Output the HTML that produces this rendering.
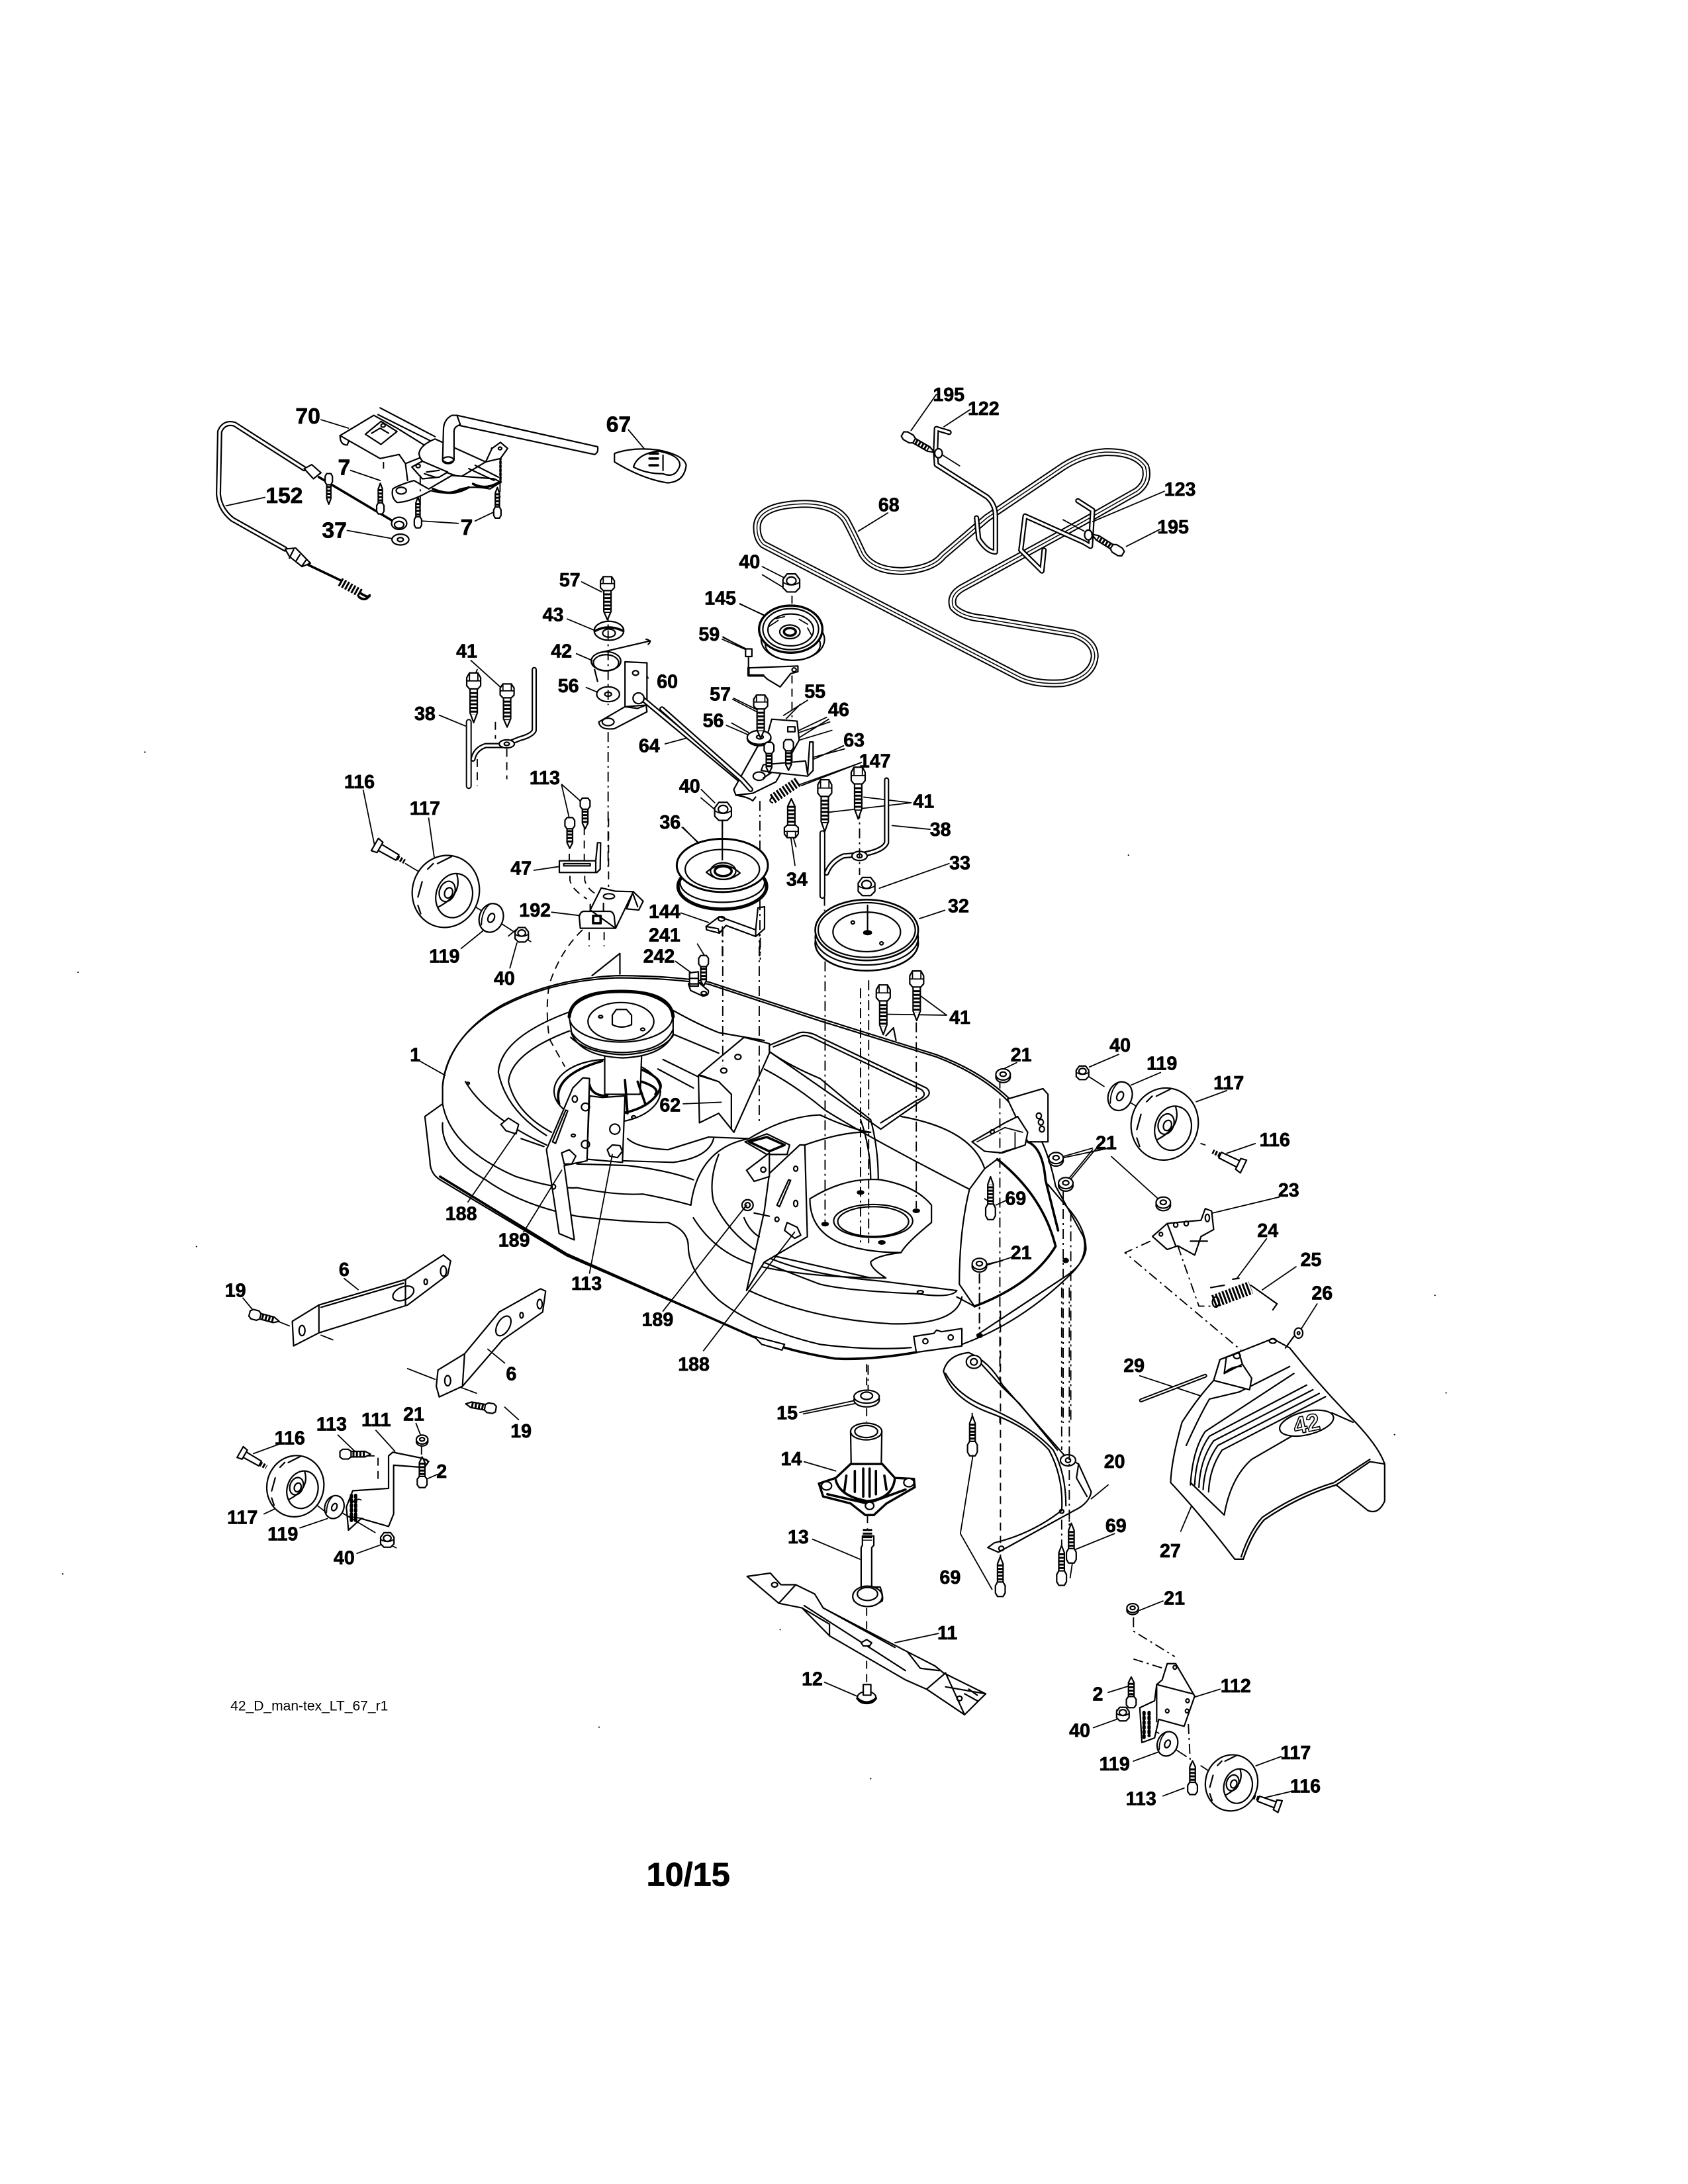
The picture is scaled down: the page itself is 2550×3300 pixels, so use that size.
<!DOCTYPE html>
<html><head><meta charset="utf-8"><title>Mower deck parts diagram</title>
<style>
html,body{margin:0;padding:0;background:#fff}
svg{display:block;fill:none;stroke:#000;stroke-width:2.2;stroke-linejoin:round;stroke-linecap:round}
svg *{vector-effect:non-scaling-stroke}
.w{fill:#fff}
.k{fill:#000}
.t{stroke-width:1.8}
.h{stroke-width:3.6}
.dd{stroke-width:1.9;stroke-dasharray:15 6 3 6;stroke-linecap:butt}
.d{stroke-width:1.9;stroke-dasharray:12 8;stroke-linecap:butt}
.tb{stroke-width:8}
.tw{stroke-width:3.6;stroke:#fff}
.bb{stroke-width:12}
.bw{stroke-width:8;stroke:#fff}
.bc{stroke-width:1.5}
.sp{stroke-width:13;stroke-dasharray:3 2.4;stroke-linecap:butt}
text{font-family:"Liberation Sans",sans-serif;font-weight:700;fill:#000;stroke:#000;stroke-width:.7;text-anchor:middle}
.l text{font-size:13.6px}
.l .L{font-size:16px}
</style></head><body>
<svg xmlns="http://www.w3.org/2000/svg" width="2550" height="3300" viewBox="0 0 2550 3300">
<defs>
<path id="belt" d="M225,430Q225,370 340,368Q410,370 435,410Q450,440 475,500Q500,545 570,545Q640,540 665,505L770,405L950,270Q1000,235 1050,232Q1120,230 1145,270Q1155,310 1125,335L990,420L710,590Q680,610 690,640Q710,665 760,670L975,710Q1025,730 1025,770Q1020,825 950,840Q880,845 840,820L240,475Q225,460 225,430Z"/>
<g id="b"><path d="M-2.6,4V19L0,25L2.6,19V4" class="w"/><path d="M0,6V20" style="stroke-width:9;stroke-dasharray:3 2.6;stroke-linecap:butt"/><path class="w" d="M-5,-3L-3,-6L3,-6L5,-3L5,2L3,4L-3,4L-5,2Z"/><path class="t" d="M-3,-6V-1M3,-6V-1M-5,-1H5"/></g>
<g id="sb"><path d="M-2,4V14L0,18L2,14V4" class="w"/><path d="M0,5V14" style="stroke-width:7;stroke-dasharray:3 2.2;stroke-linecap:butt"/><path class="w" d="M-3.5,-2L-2,-4L2,-4L3.5,-2L3.5,2L2,4L-2,4L-3.5,2Z"/></g>
<g id="n"><path class="w" d="M-6,-3L-3,-7L3,-7L6,-3L6,3L3,6L-3,6L-6,3Z"/><ellipse cx="0" cy="-2" rx="3.4" ry="2.8"/><path class="t" d="M-6,-1Q0,3 6,-1"/></g>
<g id="s"><ellipse class="w" cx="0" cy="1.2" rx="5.2" ry="4"/><ellipse class="w" cx="0" cy="-.6" rx="5.2" ry="4"/><ellipse cx="0" cy="-.8" rx="2.2" ry="1.6"/></g>
<g id="wa"><ellipse class="w" cx="0" cy="0" rx="8.5" ry="10.5" transform="rotate(20)"/><path class="t" d="M-7,5Q-7,-5 -1,-10"/><ellipse cx="0" cy="0" rx="2.2" ry="3.4" transform="rotate(25)"/></g>
<g id="wh"><ellipse class="w" rx="24" ry="26" transform="rotate(15)"/><ellipse cx="6" cy="3" rx="13" ry="16" transform="rotate(15 6 3)"/><ellipse cx="1" cy="0" rx="5.5" ry="7.5" transform="rotate(20 1 0)"/><ellipse cx="2" cy="1" rx="2.8" ry="3.8" transform="rotate(20 2 1)"/><path d="M8,-12Q12,2 -5,11M-13,-16L-9,-20M-6,-20L4,-25M-17,-7L-20,4M-20,10L-18,16"/></g>
<g id="pin"><path class="w" d="M-3,0L3,0L2.6,18L-2.6,18Z"/><path d="M0,18V25" style="stroke-width:7;stroke-dasharray:3 2;stroke-linecap:butt"/><path class="w" d="M-6,-4L6,-4L5,1L-5,1Z"/></g>
</defs>

<!-- DECK -->
<g transform="translate(550,1400) scale(.7653,.4783)">
<path d="M450,155L505,85L505,150" class="w"/><path d="M1030,345L1045,320L1050,360" class="w"/>
<path class="w" d="M155,505Q165,350 270,250Q370,165 500,155Q600,155 680,175L900,290L1130,405Q1240,470 1300,590Q1345,660 1365,820L1420,980Q1430,1040 1400,1090Q1300,1250 1180,1320L1090,1345Q1000,1370 930,1365Q830,1340 760,1290L400,1040L150,800Q130,780 130,740L120,600L155,560Z"/>
<path class="h" d="M150,790L400,1035L760,1290Q830,1340 930,1365Q1000,1370 1090,1345"/>
<path d="M155,500Q165,350 270,255Q370,170 500,162Q600,162 680,182L900,298L1130,412Q1240,480 1295,595"/>
<path d="M155,620Q150,720 240,800Q310,880 420,915Q520,935 600,935Q640,960 640,1010Q640,1090 700,1180Q770,1270 900,1320Q1000,1340 1080,1330"/>
<path d="M155,560Q170,700 300,790Q380,830 420,825Q500,850 550,845Q600,860 645,880"/>
<path d="M200,490Q240,600 360,690"/>
<path d="M405,270Q270,350 265,460Q280,580 360,660"/>
<path d="M405,330Q290,400 285,490Q300,590 370,650"/>
<path d="M610,265Q660,310 700,335L790,360M610,340L700,400M590,420L660,475M580,450L650,510"/>
<path d="M310,670L355,695M520,670Q540,700 600,705L680,665Q760,670 760,670M690,670Q680,730 610,745L510,740M420,750L520,755Q600,770 650,800"/>
<path class="w" d="M800,375L860,335Q880,330 900,350L1110,510Q1125,530 1100,550L1020,640L800,395Z"/>
<path d="M808,380L865,345Q875,342 890,355L1100,515Q1115,535 1090,550L1020,620"/>
<path d="M800,395Q840,440 900,480Q930,520 960,560L1000,610Q1015,700 1015,800M980,610Q1000,700 1000,800"/>
<path d="M790,450Q850,500 910,580Q1000,670 1195,830M1060,600Q1200,640 1225,765"/>
<path class="w" d="M1225,765L1195,830Q1175,960 1175,1130L1205,1200Q1320,1130 1365,1010Q1340,850 1250,735Z"/>
<path class="h" d="M1250,735Q1340,850 1365,1010Q1320,1130 1205,1200"/>
<path d="M880,860Q950,790 1020,800Q1090,820 1120,880L1120,935Q1070,1000 1060,1030Q990,1030 940,1000Q880,960 880,860Z" class="w"/>
<ellipse cx="1005" cy="930" rx="78" ry="52"/><ellipse cx="1005" cy="932" rx="70" ry="47"/>
<path d="M650,920Q700,1050 800,1080Q900,1110 1030,1110Q1000,1080 1000,1060Q1010,1040 1060,1030"/>
<path d="M700,720Q680,800 690,870Q720,970 780,1030L1000,1110"/>
<path d="M790,1040Q870,1100 1020,1120L1170,1150Q1160,1175 1090,1160Q950,1150 900,1130Q850,1100 780,1055"/>
<path d="M760,1150Q880,1240 1040,1255Q1170,1260 1180,1170"/>
<path d="M645,880Q660,700 760,670Q830,600 900,595Q960,640 1000,650Q950,645 870,690"/>
<path d="M1170,1170L1205,1200"/>
<path class="w" d="M1270,545L1340,512L1350,530L1350,680L1310,680Z"/>
<ellipse cx="1332" cy="598" rx="5" ry="9"/><ellipse cx="1336" cy="618" rx="5" ry="9"/><ellipse cx="1338" cy="640" rx="5" ry="9"/>
<path class="w" d="M1200,680L1265,620L1290,600L1310,650L1305,690L1260,715L1225,710Z"/>
<path class="t" d="M1210,680L1265,635L1300,650M1285,650V700L1260,712"/><ellipse cx="1240" cy="648" rx="4" ry="6"/>
<path class="h" d="M1310,680Q1340,700 1345,800L1370,960"/>
<path d="M1350,815L1395,900Q1425,960 1425,1020Q1420,1070 1380,1110L1210,1290"/>
<path class="w" d="M770,1295L830,1320L825,1338L785,1320Z"/>
<path class="w" d="M1085,1295L1125,1285L1130,1275L1140,1280L1180,1270L1180,1325L1090,1345Z"/>
<ellipse cx="1108" cy="1310" rx="5" ry="8"/><ellipse cx="1158" cy="1298" rx="5" ry="8"/>
<ellipse cx="1215" cy="1292" rx="5" ry="6" class="k"/>
<ellipse cx="1385" cy="1055" rx="5" ry="6" class="k"/>
<!-- spindle -->
<ellipse cx="480" cy="520" rx="105" ry="100" class="w"/>
<path d="M385,560Q370,470 470,425" class="h"/>
<path d="M545,450Q590,480 585,510Q570,570 510,590" class="h"/>
<path class="w" d="M475,400L475,530L545,530L548,400Z"/>
<path class="w" d="M405,285L410,340Q430,410 510,415Q590,410 610,340L610,280Z"/>
<path d="M408,330Q430,395 510,398Q590,395 610,325M408,350Q440,400 510,405Q585,400 610,345"/>
<ellipse cx="507" cy="285" rx="102" ry="80" class="w"/>
<path d="M405,285Q410,205 507,205Q605,205 610,285" style="stroke-width:5"/>
<ellipse cx="507" cy="300" rx="65" ry="60"/>
<path class="w" d="M490,280L498,262L518,262L528,280L528,310Q508,325 490,310Z"/>
<circle cx="467" cy="285" r="4"/><circle cx="550" cy="325" r="4"/>
<path class="h" d="M445,500Q450,535 480,535M515,485L520,590M540,490L555,560M548,490Q585,510 575,530"/>
<path class="w" d="M445,535L470,540L515,535L510,745L440,735Z"/>
<ellipse cx="495" cy="640" rx="10" ry="16"/><path class="w" d="M480,705L490,690L505,692L510,710L500,730L485,725Z"/>
<path class="w" d="M360,705L412,510L432,478L445,480L440,740L395,755L415,990L385,970L360,705Z"/>
<path d="M372,680L398,580L402,582L378,685Z"/>
<ellipse cx="416" cy="545" rx="5" ry="10"/><ellipse cx="437" cy="570" rx="8" ry="12"/><ellipse cx="437" cy="688" rx="8" ry="12"/><circle cx="413" cy="660" r="4"/>
<path class="w" d="M390,715L405,705L418,725L410,750L395,750Z"/><ellipse cx="374" cy="822" rx="4" ry="7"/>
<path class="w" d="M270,625L285,605L305,625L300,655L280,645Z"/>
<!-- center bracket -->
<path class="w" d="M660,470L750,350L800,370L800,400L730,650L725,640L725,530L700,490L665,470Z"/>
<path class="w" d="M660,470L700,490L725,530L725,640L700,590L662,620Z"/>
<ellipse cx="710" cy="455" rx="6" ry="8"/><ellipse cx="738" cy="412" rx="6" ry="8"/>
<!-- right bracket -->
<path class="w" d="M755,1150L790,900L800,780L860,690L870,690L875,980L790,1060Z"/>
<path class="w" d="M752,680L795,655L840,690L835,720L795,720Z"/><path class="h" d="M760,680L795,665L830,690L800,710Z"/>
<path class="w" d="M800,715L755,770L770,805L800,790Z"/><ellipse cx="788" cy="768" rx="5" ry="8"/>
<path d="M815,880L838,800L842,802L820,885Z"/><ellipse cx="852" cy="875" rx="4" ry="10"/><ellipse cx="852" cy="765" rx="4" ry="8"/><ellipse cx="815" cy="925" rx="4" ry="7"/>
<path class="w" d="M835,935L855,950L862,975L850,985L830,960Z"/>
<path d="M800,915L770,905M750,920Q760,960 780,980"/>
<ellipse cx="757" cy="880" rx="11" ry="17" class="w"/><ellipse cx="757" cy="880" rx="5" ry="8"/>
<ellipse cx="980" cy="840" rx="6" ry="5" class="k"/><ellipse cx="1090" cy="898" rx="6" ry="5" class="k"/><ellipse cx="1022" cy="998" rx="6" ry="5" class="k"/><ellipse cx="910" cy="940" rx="6" ry="5" class="k"/>
<circle cx="205" cy="495" r="3"/><circle cx="532" cy="602" r="4"/><ellipse cx="1098" cy="1155" rx="6" ry="5"/>
<!-- leaders -->
<path class="t" d="M110,425L160,470M205,870L300,650M315,965L390,770M445,1095L490,720M630,560L705,555M670,1340L850,965M590,1215L755,880M1028,277L1150,280L1095,215M658,55L672,92M615,110L645,145M1288,430L1262,450M1438,700L1372,730M1438,705L1385,808M1225,860L1245,880M1278,1045L1225,1072M860,1535L975,1495M285,30L300,10"/>
<path class="dd" d="M910,110V945M980,195V1000M996,170V1000M1090,240V890M708,0V440M780,0V620M1255,480V1568M1380,830V1568M1395,900V1568M995,1385V1470M1215,1095V1290"/>
</g>

<!-- TOP LEFT -->
<g transform="translate(300,550) scale(.6378,.5102)">
<path class="t" d="M290,165L355,190M157,395L65,420M360,315L430,345M530,465L615,472M655,465L705,435M352,493L458,517M1018,195L1055,250M1335,600L1390,635M1282,710L1340,745M1242,808L1300,848M907,645L955,675M873,755L940,790M895,858L932,878M1065,930L1062,925M918,958L945,972M570,1040L632,1072M660,905L648,940M645,878L722,965M1265,993L1322,1030M1250,1070L1305,1100M1105,1125L1165,1105M1425,1008L1392,1050M1495,1060L1345,1125M1500,1085L1375,1132M1240,815L1300,848M1190,1285L1225,1322M860,1248L878,1345M860,1245L905,1295M390,1262L420,1445M545,1345L558,1460M1145,1372L1182,1415M1415,1430L1407,1395M1530,1140L1455,1165M1570,1180L1425,1245"/>
<!-- cable 152 -->
<path class="tb" d="M250,310L85,178Q60,170 50,200L47,385Q50,430 80,460L205,548"/><path class="tw" d="M250,310L85,178Q60,170 50,200L47,385Q50,430 80,460L205,548"/>
<path class="h" d="M285,335L460,465M260,595L335,640"/>
<path class="w" d="M250,310L268,298L290,322L272,340Z"/>
<path class="w" d="M205,548L230,545L265,590L245,600L215,570Z"/><path d="M225,550L215,575M240,565L230,585M255,580L245,598"/>
<ellipse cx="475" cy="472" rx="18" ry="18" class="w"/><ellipse cx="475" cy="476" rx="11" ry="10"/>
<ellipse cx="478" cy="520" rx="20" ry="16" class="w"/><ellipse cx="478" cy="520" rx="7" ry="6"/>
<path class="sp" d="M335,645L385,680"/><path class="h" d="M385,680Q405,695 405,685Q395,705 380,690"/>
<!-- 70 bracket -->
<path d="M430,130L560,215M425,150L550,228"/>
<path class="w" d="M335,212L415,152L470,190L560,260L490,295L475,268L430,280Z"/>
<path d="M335,212Q335,240 352,240L356,228M490,295L495,345"/>
<path class="w" d="M395,208L432,170L470,200L432,238Z"/><circle cx="437" cy="182" r="5"/><path d="M410,205L430,190L450,205"/>
<path d="M612,152L945,245Q948,262 938,268L610,180" class="w"/>
<path class="w" d="M522,265Q525,240 560,222L680,290L620,335L560,310Q525,295 522,265Z"/>
<path class="w" d="M460,370Q470,360 510,345L545,370L600,330L700,340L716,350L690,370Q650,360 620,370Q590,390 550,375Q500,410 470,410Q455,395 460,370Z"/>
<path class="h" d="M555,370Q600,395 640,365M650,355Q680,375 712,350"/>
<path d="M640,310L700,345M655,300L710,335"/>
<ellipse cx="480" cy="375" rx="12" ry="10"/>
<path class="w" d="M505,305L530,288L590,320L570,335L530,340Z"/><circle cx="520" cy="302" r="5"/><path d="M540,320L570,315M535,325L560,335"/>
<path class="w" d="M600,152Q580,165 580,195L578,285Q590,300 605,285L605,200Q605,185 620,180L612,152Z"/><ellipse cx="591" cy="285" rx="13" ry="10"/>
<path class="h" style="stroke-dasharray:3 3" d="M695,250L715,280V350"/><path class="w" d="M680,290L695,250L715,232L732,250L715,280Z"/><circle cx="714" cy="250" r="4"/>
<path class="dd" d="M438,290V310M525,330V440M714,350V395"/>
<!-- 67 -->
<path class="w" d="M985,265Q1030,245 1090,255Q1150,270 1155,300Q1150,350 1110,352Q1050,340 985,290Z"/>
<path d="M1030,305Q1040,265 1090,258Q1140,270 1140,300Q1130,340 1100,325Q1060,325 1030,305Z"/>
<path class="h" d="M1068,265H1088M1068,280H1088M1068,300H1088"/><path d="M1100,270V315"/>
<!-- 42/43/56/60 stack -->
<ellipse cx="972" cy="790" rx="35" ry="28" class="w"/><path class="h" d="M940,790Q970,770 1005,790"/><ellipse cx="972" cy="797" rx="15" ry="12"/>
<ellipse cx="965" cy="880" rx="35" ry="28"/><ellipse cx="965" cy="885" rx="30" ry="24"/><path d="M950,855L1070,820M1060,815Q1075,820 1065,830M938,905L945,940"/>
<ellipse cx="970" cy="978" rx="27" ry="22" class="w"/><ellipse cx="970" cy="978" rx="8" ry="6"/>
<path class="w" d="M1010,882L1062,885L1062,1010L1010,1015Z"/><circle cx="1035" cy="915" r="7"/>
<path class="w" d="M948,1060L1010,1015L1040,1020L1060,1010L1062,1030L985,1080Q950,1085 948,1060Z"/><ellipse cx="970" cy="1060" rx="14" ry="11"/>
<path class="tb" d="M1045,985L1300,1250L1305,1262"/><path class="tw" d="M1045,985L1300,1250L1305,1262"/>
<ellipse cx="1042" cy="990" rx="13" ry="16" class="w"/>
<path class="dd" d="M970,730V1010M970,1090V1500"/>
<!-- 38 left -->
<path class="tb" style="stroke-width:9" d="M640,1060V1250"/><path class="tw" style="stroke-width:5" d="M640,1060V1250"/>
<path class="tb" d="M795,905V1085Q790,1100 760,1110L720,1130L680,1130Q655,1140 650,1170"/><path class="tw" d="M795,905V1085Q790,1100 760,1110L720,1130L680,1130Q655,1140 650,1170"/>
<ellipse cx="730" cy="1125" rx="18" ry="12" class="w"/><ellipse cx="730" cy="1125" rx="6" ry="5"/>
<path class="d" d="M703,1060V1110M730,1140V1230M660,1170V1250"/>
</g>

<!-- 47, 192, 144, 242 detail -->
<g transform="translate(780,1230) scale(.3333)">
<path class="d" d="M240,120V210M308,60V210M243,280V300Q250,340 320,385M310,280V300Q320,340 365,365M330,535V600M398,535V600M300,525Q200,620 150,770Q130,880 150,1020L220,1145M418,20V330"/>
<path class="w" d="M195,212L360,212L368,130L382,130L380,250L365,265L195,265Z"/><path d="M215,225H335V235H215ZM360,212V265"/>
<path class="t" d="M80,255L195,238M160,445L285,460"/>
<path class="w" d="M530,352L575,395L555,435L500,430Z"/><path d="M530,365L550,420"/>
<path class="w" d="M335,435L385,335L450,350L530,352L450,518L290,518L285,465Q290,443 305,441L425,441Q445,445 445,480L450,518Z"/>
<ellipse cx="420" cy="373" rx="25" ry="12"/><path d="M395,405V440M335,410V440"/>
<path d="M348,462H382V495H348Z" class="h"/>
<path class="w" d="M860,510L920,465L1085,525L1095,425L1125,420L1125,520L1085,555L950,505L920,540L862,525Z"/>
<path d="M862,510L915,520L920,540M1085,525V555"/><ellipse cx="930" cy="475" rx="15" ry="10"/>
<path class="w" d="M780,770L810,750L870,800Q875,825 845,825L790,800Z"/><ellipse cx="850" cy="812" rx="12" ry="8"/>
<path class="w" d="M785,720L825,715V780H785Z"/><path d="M785,745H825M785,770H825"/>
</g>

<!-- TOP RIGHT -->
<g transform="translate(1000,550) scale(.6378,.574)">
<use href="#belt" class="bb"/><use href="#belt" class="bw"/><use href="#belt" class="bc"/>
<path class="tb" d="M680,180L650,170L648,230L650,265L770,350Q790,370 790,400V495Q770,495 750,460L745,405"/><path class="tw" d="M680,180L650,170L648,230L650,265L770,350Q790,370 790,400V495Q770,495 750,460L745,405"/>
<path class="t" d="M665,240L705,268M950,410L1000,440"/>
<ellipse cx="655" cy="235" rx="9" ry="12" class="w"/>
<path class="tb" d="M985,360L1020,385L1015,480L1000,470L860,400L850,490L900,545L905,490"/><path class="tw" d="M985,360L1020,385L1015,480L1000,470L860,400L850,490L900,545L905,490"/>
<ellipse cx="1010" cy="450" rx="9" ry="13" class="w"/>
<path class="t" d="M465,440L535,392M590,175L650,80M668,165L730,120M1020,415L1190,335M1100,480L1180,435M238,555L290,590M185,632L240,660M145,720L200,750M170,880L225,910M165,945L205,970M288,925L345,885M248,1005L390,930M280,1015L395,935M360,1040L430,1005M330,1110L470,1050M93,1120L125,1155M50,1220L85,1260M395,1180L590,1155M478,1140L590,1155M545,1215L635,1225M515,1380L680,1315M610,1460L670,1438M315,1320L305,1245M45,1445L110,1470"/>
<!-- 145 pulley -->
<path class="d" d="M308,610V640"/>
<ellipse cx="310" cy="725" rx="75" ry="55" class="w"/><ellipse cx="310" cy="738" rx="65" ry="42"/>
<ellipse cx="305" cy="698" rx="75" ry="62" class="w" style="stroke-width:3.4"/>
<ellipse cx="305" cy="698" rx="66" ry="54"/><ellipse cx="305" cy="700" rx="54" ry="42"/>
<ellipse cx="303" cy="705" rx="24" ry="18"/><ellipse cx="303" cy="705" rx="14" ry="10" class="h"/>
<path class="t" d="M255,690L275,675M270,670L290,665M325,672L345,685M345,695L355,715"/>
<!-- 59 -->
<path class="w" d="M205,755L205,820L240,820L250,830L280,850L305,815L322,810L322,795L205,800Z"/>
<path class="h" d="M205,800V820H240"/>
<path class="w" d="M198,750H213V770H198Z"/><circle cx="313" cy="805" r="5"/>
<path class="d" d="M308,820V930M308,990V1080"/>
<!-- 55 -->
<path class="w" d="M260,935L320,940L325,990L270,1100L215,1130L175,1135L170,1120L225,1010L250,975Z"/>
<path d="M298,955H315V968H298Z"/><ellipse cx="230" cy="1085" rx="14" ry="11"/>
<path d="M175,1135Q205,1140 215,1150L222,1140"/>
<ellipse cx="230" cy="985" rx="28" ry="20" class="w"/><ellipse cx="230" cy="983" rx="28" ry="18" class="w"/><ellipse cx="232" cy="982" rx="8" ry="5"/>
<path class="w" d="M240,1055L340,1045L345,1080L350,995L358,995L358,1070L345,1085L260,1075L235,1070Z"/><path d="M260,1075L240,1090"/>
<path class="sp" style="stroke-width:15" d="M262,1145L322,1100"/><path d="M262,1140Q250,1150 262,1155"/>
<!-- rod end -->
<path class="tb" d="M0,908L190,1095L210,1120"/><path class="tw" d="M0,908L190,1095L210,1120"/>
<!-- 38 right -->
<path class="tb" style="stroke-width:9" d="M380,1235V1400"/><path class="tw" style="stroke-width:5" d="M380,1235V1400"/>
<path class="tb" d="M532,1095V1260Q525,1280 480,1290L430,1295Q400,1310 390,1340"/><path class="tw" d="M532,1095V1260Q525,1280 480,1290L430,1295Q400,1310 390,1340"/>
<ellipse cx="468" cy="1295" rx="18" ry="12" class="w"/><ellipse cx="468" cy="1295" rx="6" ry="5"/>
<path class="dd" d="M468,1170V1345M232,1150V1568M143,1195V1250M143,1480V1568M385,1400V1440M233,1510V1568"/>
<!-- 36 pulley -->
<ellipse cx="143" cy="1375" rx="105" ry="60" class="w" style="stroke-width:5"/><ellipse cx="143" cy="1365" rx="100" ry="52"/>
<ellipse cx="143" cy="1320" rx="108" ry="70" class="w" style="stroke-width:3"/>
<ellipse cx="143" cy="1330" rx="88" ry="52"/><path d="M143,1195V1305"/>
<path d="M105,1338Q145,1300 185,1340Q145,1375 105,1338Z"/><ellipse cx="145" cy="1335" rx="30" ry="22"/><ellipse cx="145" cy="1335" rx="20" ry="13" class="h"/>
<!-- 32 pulley -->
<ellipse cx="485" cy="1525" rx="122" ry="72" class="w" style="stroke-width:2.6"/><ellipse cx="485" cy="1510" rx="122" ry="72" class="w"/>
<ellipse cx="485" cy="1490" rx="122" ry="80" class="w" style="stroke-width:2.6"/><ellipse cx="485" cy="1490" rx="115" ry="72"/>
<ellipse cx="485" cy="1495" rx="80" ry="52"/><ellipse cx="487" cy="1497" rx="9" ry="5" class="k"/><circle cx="452" cy="1470" r="4"/><circle cx="520" cy="1525" r="4"/>
<path d="M487,1425V1490"/>
</g>

<!-- LOWER LEFT -->
<g transform="translate(300,1800) scale(.6378,.7015)">
<path class="w" d="M222,280L285,245L490,190L580,137L597,150L590,180L495,245L285,305L225,333Z"/>
<path d="M285,245V305M290,250L485,198"/><ellipse cx="485" cy="220" rx="26" ry="14" class="w" transform="rotate(-20 485 220)"/><path d="M490,190V245"/>
<ellipse cx="245" cy="300" rx="7" ry="11"/><ellipse cx="580" cy="172" rx="7" ry="11"/><ellipse cx="538" cy="195" rx="4" ry="6"/>
<path class="t" d="M290,310L318,320M378,212L345,188M215,290L160,270M105,230L128,255"/>
<path class="w" d="M567,385L630,350L712,260L810,210L822,215L815,260L720,320L625,420L570,443L563,420Z"/>
<path d="M630,350L625,420"/><ellipse cx="722" cy="290" rx="14" ry="24" class="w" transform="rotate(35 722 290)"/>
<ellipse cx="590" cy="408" rx="7" ry="11"/><ellipse cx="808" cy="243" rx="6" ry="10"/><ellipse cx="765" cy="267" rx="4" ry="6"/>
<path class="t" d="M495,382L560,405M685,340L725,370M620,422L658,435M725,465L758,492"/>
<!-- 111 group -->
<path class="w" d="M450,640L450,570L460,562L530,575L545,582L535,595L462,590L462,695L450,722L385,705L355,730L350,680L365,645Z"/>
<ellipse cx="535" cy="583" rx="8" ry="6"/>
<path class="t" d="M352,700L390,705M365,670Q375,660 385,665"/>
<path style="stroke-width:5;stroke-dasharray:3 4" d="M362,655V712M372,655V712"/>
<path class="t" d="M420,515L465,560M515,500L530,535M190,545L130,565M330,525L370,560M155,695L190,680M240,725L305,705M565,610L540,620M375,780L430,762"/>
<path class="d" d="M398,570H425V620"/><path class="d" d="M528,550V570M532,595V610"/>
<path class="t" d="M235,645L300,690M335,690L418,735M450,760L468,768"/>
</g>

<!-- LOWER RIGHT -->
<g transform="translate(1100,1700) scale(.6378,.7015)">
<path class="t" d="M900,50L785,72M872,50L810,118M908,68L1020,160M1305,155L1145,190M1275,245L1205,330M1345,305L1265,355M1395,385L1358,438M975,540L1125,585M1100,815L1072,875M178,622L300,600M180,725L255,745M200,892L312,935M498,1095L395,1115M228,1200L310,1232M650,292L610,300M664,160L635,172M900,775L860,805M915,880L820,915L810,975M580,710L550,880L625,1000M1030,1025L975,1045M1165,1215L1105,1232M900,1222L950,1208M865,1298L920,1280M960,1370L1020,1350M1030,1445L1080,1428M1310,1360L1250,1380M1335,1435L1265,1450M1020,1310L1000,1300M1060,1345L1085,1360M1120,1380L1145,1395M920,1260L935,1275"/>
<path class="d" d="M328,515V570M328,610V640M328,1040V1210"/>
<path class="dd" d="M595,320V450M790,350V700M808,350V860M960,1060V1090L1058,1145M960,1150L1030,1170M1090,1290L1095,1380M1000,250L940,275L1215,485M1065,260L1115,390H1145"/>
<!-- 23 -->
<path class="w" d="M1005,240L1040,212L1060,210L1120,205L1130,180L1145,185L1150,225L1120,240L1105,280L1065,260L1040,268Z"/>
<path d="M1040,212L1060,260M1095,250H1135"/><ellipse cx="1135" cy="200" rx="5" ry="8"/><ellipse cx="1060" cy="215" rx="5" ry="5"/><ellipse cx="1085" cy="212" rx="5" ry="5"/><circle cx="1025" cy="235" r="4"/>
<!-- 24 25 -->
<path class="sp" style="stroke-width:20" d="M1150,380L1238,350"/><path d="M1143,350L1175,345M1238,345L1300,385L1290,398M1195,332L1210,330"/><ellipse cx="1155" cy="381" rx="8" ry="11"/>
<ellipse cx="1351" cy="448" rx="10" ry="11" class="w"/><ellipse cx="1351" cy="448" rx="3" ry="3"/>
<!-- 27 chute -->
<path class="w" d="M1165,505L1290,460L1330,480Q1400,560 1475,630Q1540,690 1555,730L1555,810Q1540,840 1515,830L1440,775Q1350,800 1270,850Q1240,880 1220,935L1200,935Q1120,840 1048,770Q1050,720 1075,640Q1110,590 1150,550Z"/>
<path d="M1220,935Q1240,880 1270,850Q1350,800 1440,775L1520,725L1555,730M1215,930Q1235,875 1265,845Q1345,795 1435,770L1520,720"/>
<path d="M1175,840Q1190,760 1240,720L1430,620L1480,640M1095,770L1175,840M1085,690Q1120,620 1140,590L1210,575L1330,520"/>
<path d="M1095,775Q1100,700 1130,660L1340,535M1105,775Q1108,710 1140,670L1370,560M1115,780Q1118,720 1150,680L1385,570M1125,785Q1128,730 1160,690L1400,578M1138,790Q1140,740 1170,700L1415,585"/>
<ellipse cx="1370" cy="642" rx="65" ry="25" transform="rotate(-12 1370 642)" class="w"/>
<path class="w" d="M1165,505L1180,500L1175,535L1218,515L1240,545L1235,570L1150,550Z"/>
<path d="M1180,500L1210,490L1218,515M1175,535Q1190,520 1215,520"/><ellipse cx="1205" cy="497" rx="8" ry="6"/><ellipse cx="1290" cy="465" rx="8" ry="5"/>
<path class="tb" style="stroke-width:6" d="M978,593L1130,540"/><path class="tw" style="stroke-width:2" d="M978,593L1130,540"/>
<path d="M1320,480L1340,455"/>
<!-- 15 -->
<ellipse cx="328" cy="592" rx="30" ry="15" class="w"/><ellipse cx="328" cy="585" rx="30" ry="14" class="w"/><ellipse cx="328" cy="583" rx="14" ry="8"/>
<!-- 14 housing -->
<path class="w" d="M290,660L292,770H362L364,660Z"/><ellipse cx="327" cy="660" rx="37" ry="18" class="w"/><ellipse cx="327" cy="660" rx="27" ry="13"/>
<path class="w" style="stroke-width:3.4" d="M215,772L255,760L290,730H365L395,760L440,762L442,780L375,815L345,840L325,840L290,815L225,800Z"/>
<path class="h" d="M235,795L330,815L420,785M255,765Q265,800 330,810Q390,805 395,760M300,745V790M320,740V800M335,740V800M350,745V795M280,755L275,790M370,755L375,785"/>
<ellipse cx="233" cy="777" rx="12" ry="9" class="w"/><ellipse cx="428" cy="770" rx="12" ry="9" class="w"/><ellipse cx="335" cy="820" rx="10" ry="8" class="w"/>
<!-- 13 -->
<path class="w" d="M318,885L345,885L345,905L340,910L340,995H360Q368,1015 365,1025Q330,1045 298,1025Q295,1005 315,995V910L318,905Z"/>
<ellipse cx="330" cy="1015" rx="35" ry="22" class="w"/><ellipse cx="330" cy="1010" rx="24" ry="14"/>
<path class="sp" style="stroke-width:14" d="M330,870V895"/><path class="d" d="M330,840V870"/>
<!-- 11 blade -->
<path class="w" d="M45,972L100,965L125,990L160,990L205,1010L225,1040L415,1130L490,1165L510,1180L610,1225L560,1270L470,1215L420,1195L240,1100L175,1040L120,1030Z"/>
<path d="M120,1030L160,990M175,1040L240,1075L240,1100M225,1040L395,1125M180,1035L420,1175M425,1135L455,1170L500,1175M470,1215L515,1180L560,1270M515,1210L610,1225"/>
<ellipse cx="110" cy="990" rx="7" ry="5"/><ellipse cx="548" cy="1235" rx="6" ry="5"/><path d="M315,1115L328,1108L340,1115L335,1122L320,1122Z" class="w"/>
<path d="M560,1225L590,1240M570,1215L590,1228"/>
<!-- 12 -->
<ellipse cx="328" cy="1233" rx="22" ry="13" class="w"/><path class="w" d="M320,1205H338V1228H320Z"/><path class="h" d="M306,1235Q328,1252 350,1235"/>
<!-- 20 strap -->
<path class="w" d="M510,530Q520,495 570,490Q620,510 650,560L800,715L830,730L860,790Q855,815 820,830L640,920L615,910L630,900Q720,880 790,830Q795,760 760,700Q710,650 620,620Q530,590 510,530Z"/>
<path d="M515,535Q545,585 620,610Q720,650 770,700Q800,750 800,820M590,505L650,565L690,600L780,700M830,730L825,760L850,800"/>
<ellipse cx="582" cy="510" rx="18" ry="14" class="w"/><ellipse cx="582" cy="510" rx="8" ry="7"/>
<ellipse cx="805" cy="722" rx="18" ry="12" class="w"/><ellipse cx="805" cy="722" rx="6" ry="5"/>
<ellipse cx="647" cy="912" rx="6" ry="5"/><ellipse cx="790" cy="832" rx="5" ry="4"/>
<path class="d" d="M645,400V900"/><path class="d" d="M578,620V650"/><path class="dd" d="M790,850V930M645,925V955M808,700V880"/>
<!-- 112 -->
<path class="w" d="M975,1255L1010,1240L1015,1205L1028,1195L1040,1160L1060,1160L1105,1230L1080,1295L1020,1280L1010,1320L980,1330Z"/>
<path d="M1015,1205L1100,1225M1015,1210V1285"/><circle cx="1058" cy="1168" r="4"/><circle cx="1088" cy="1240" r="4"/><circle cx="1040" cy="1262" r="4"/><circle cx="1087" cy="1262" r="4"/>
<path style="stroke-width:5;stroke-dasharray:3 4" d="M985,1265V1320M997,1265V1315"/>
</g>

<!-- Fasteners and repeated parts in image units -->
<g transform="scale(2.1046)">
<use href="#b" transform="translate(436,420)"/><use href="#b" transform="translate(546,505)"/>
<use href="#b" transform="translate(340,490) scale(1,1.15)"/><use href="#b" transform="translate(364,497)"/>
<use href="#sb" transform="translate(409,591)"/><use href="#sb" transform="translate(420,577)"/>
<use href="#b" transform="translate(592,567) scale(1,1.2)"/><use href="#b" transform="translate(616,558) scale(1,1.2)"/>
<use href="#b" transform="translate(568,596) rotate(180) scale(1,.9)"/>
<use href="#b" transform="translate(634,714) scale(1,1.15)"/><use href="#b" transform="translate(658,704) scale(1,1.15)"/>
<use href="#sb" transform="translate(711,870) rotate(180) scale(1,1.4)"/>
<use href="#sb" transform="translate(698,1040) rotate(180) scale(1,1.3)"/>
<use href="#sb" transform="translate(718,1141) rotate(180) scale(1,1.3)"/>
<use href="#sb" transform="translate(769,1117) rotate(180) scale(1,1.3)"/>
<use href="#sb" transform="translate(762,1133) rotate(180) scale(1,1.3)"/>
<use href="#sb" transform="translate(552,537)"/><use href="#sb" transform="translate(566,535)"/>
<use href="#sb" transform="translate(303,1064) rotate(180)"/><use href="#sb" transform="translate(812,1222) rotate(180)"/>
<use href="#sb" transform="translate(856,1284) rotate(180) scale(1,1.1)"/>
<use href="#sb" transform="translate(248,1044) rotate(-90)"/>
<use href="#sb" transform="translate(183,944) rotate(-75)"/><use href="#sb" transform="translate(352,1011) rotate(100)"/>
<use href="#sb" transform="translate(652,314) rotate(-60) scale(.9,1.2)"/><use href="#sb" transform="translate(802,395) rotate(122) scale(.9,1.2)"/>
<use href="#sb" transform="translate(505,690)"/>
<use href="#sb" transform="translate(236,344) scale(.75,1)"/><use href="#sb" transform="translate(273,365) rotate(180) scale(.75,1)"/><use href="#sb" transform="translate(357,368) rotate(180) scale(.75,1)"/>
<use href="#sb" transform="translate(300,375) rotate(180) scale(.75,1)"/>
<path class="t" d="M291,620L301,626M329,644L346,654M355,660L369,669M376,673L381,676M781.6,773L792.5,780M807,789L817,795M846,812.5L857,818M862,821L865,822"/>
<path class="t" d="M331,681L347,668M366,695L371,677M803,757L782,766M833,770L812,779M880.5,783L858.6,791M901,821L880.6,828"/>
<use href="#pin" transform="translate(272,608) rotate(-60) scale(.85)"/><use href="#pin" transform="translate(889.5,836) rotate(116) scale(.85)"/>
<use href="#pin" transform="translate(175,1044) rotate(-60) scale(.75)"/><use href="#pin" transform="translate(916,1296) rotate(110) scale(.75)"/>
<use href="#n" transform="translate(568,419)"/><use href="#n" transform="translate(519,583)"/><use href="#n" transform="translate(374.5,671.5) scale(.8)"/><use href="#n" transform="translate(777,770.6) scale(.75)"/><use href="#n" transform="translate(278,1106) scale(.8)"/><use href="#n" transform="translate(806,1231) scale(.75)"/>
<use href="#n" transform="translate(622,637)"/>
<use href="#s" transform="translate(720,772)"/><use href="#s" transform="translate(758,832)"/><use href="#s" transform="translate(765,850)"/><use href="#s" transform="translate(703,908)"/><use href="#s" transform="translate(303,1034) scale(.8)"/><use href="#s" transform="translate(813,1155) scale(.8)"/><use href="#s" transform="translate(835,864)"/>
<use href="#wa" transform="translate(352.6,659)"/><use href="#wa" transform="translate(804,787)"/><use href="#wa" transform="translate(240,1082) scale(.8)"/><use href="#wa" transform="translate(838,1252) scale(.85)"/>
<use href="#wh" transform="translate(320,640)"/><use href="#wh" transform="translate(836,807)"/>
<use href="#wh" transform="translate(212,1067) scale(.85)"/><use href="#wh" transform="translate(884,1280) scale(.78)"/>
<g class="k" style="stroke:none">
<circle cx="104" cy="540" r=".5"/><circle cx="56" cy="698" r=".5"/><circle cx="141" cy="895" r=".5"/><circle cx="625" cy="1277" r=".5"/><circle cx="1038" cy="1000" r=".5"/><circle cx="810" cy="614" r=".5"/><circle cx="1030" cy="930" r=".5"/><circle cx="1001" cy="1030" r=".5"/><circle cx="45" cy="1130" r=".5"/><circle cx="560" cy="1170" r=".5"/><circle cx="430" cy="1240" r=".5"/>
</g>
<g class="l">
<text class="L" x="221" y="304">70</text><text class="L" x="444" y="310">67</text><text class="L" x="247" y="341">7</text><text class="L" x="335" y="384">7</text><text class="L" x="204" y="361">152</text><text class="L" x="240" y="386">37</text>
<text x="681" y="288">195</text><text x="706" y="298">122</text><text x="638" y="367">68</text><text x="847" y="356">123</text><text x="842" y="383">195</text>
<text x="538" y="408">40</text><text x="517" y="434">145</text><text x="409" y="421">57</text><text x="397" y="446">43</text><text x="403" y="472">42</text><text x="335" y="472">41</text><text x="479" y="494">60</text><text x="509" y="460">59</text><text x="305" y="517">38</text><text x="408" y="497">56</text><text x="517" y="503">57</text><text x="585" y="501">55</text><text x="512" y="522">56</text><text x="602" y="514">46</text><text x="466" y="540">64</text><text x="613" y="536">63</text><text x="628" y="551">147</text><text x="663" y="580">41</text><text x="391" y="563">113</text><text x="258" y="566">116</text><text x="305" y="585">117</text><text x="495" y="569">40</text><text x="481" y="595">36</text><text x="675" y="600">38</text><text x="689" y="624">33</text><text x="572" y="636">34</text><text x="688" y="655">32</text><text x="374" y="628">47</text><text x="384" y="658">192</text><text x="477" y="659">144</text><text x="477" y="676">241</text><text x="473" y="691">242</text><text x="319" y="691">119</text><text x="362" y="707">40</text><text x="689" y="735">41</text><text x="733" y="762">21</text><text x="804" y="755">40</text><text x="834" y="768">119</text><text x="882" y="782">117</text><text x="298" y="762">1</text><text x="481" y="798">62</text><text x="915" y="823">116</text><text x="794" y="825">21</text><text x="729" y="865">69</text><text x="925" y="859">23</text><text x="331" y="876">188</text><text x="369" y="895">189</text><text x="421" y="926">113</text><text x="910" y="888">24</text><text x="941" y="909">25</text><text x="733" y="904">21</text><text x="949" y="933">26</text><text x="472" y="952">189</text><text x="498" y="984">188</text><text x="814" y="985">29</text><text x="247" y="916">6</text><text x="367" y="991">6</text><text x="169" y="931">19</text><text x="374" y="1032">19</text><text x="565" y="1019">15</text><text x="297" y="1020">21</text><text x="208" y="1037">116</text><text x="238" y="1027">113</text><text x="270" y="1024">111</text><text x="317" y="1061">2</text><text x="568" y="1052">14</text><text x="800" y="1054">20</text><text x="801" y="1100">69</text><text x="174" y="1094">117</text><text x="203" y="1106">119</text><text x="247" y="1123">40</text><text x="573" y="1108">13</text><text x="682" y="1137">69</text><text x="840" y="1118">27</text><text x="843" y="1152">21</text><text x="680" y="1177">11</text><text x="887" y="1215">112</text><text x="583" y="1210">12</text><text x="788" y="1221">2</text><text x="775" y="1247">40</text><text x="930" y="1263">117</text><text x="800" y="1271">119</text><text x="937" y="1287">116</text><text x="819" y="1296">113</text>
</g>
<text x="938" y="1028" transform="rotate(-12 938 1023)" style="font-size:17px;fill:#fff;stroke-width:1.6">42</text>
<text x="222" y="1228" style="font-size:10px;font-weight:400;stroke:none">42_D_man-tex_LT_67_r1</text>
<text x="494" y="1354" style="font-size:24px">10/15</text>
</g>
</svg>
</body></html>
